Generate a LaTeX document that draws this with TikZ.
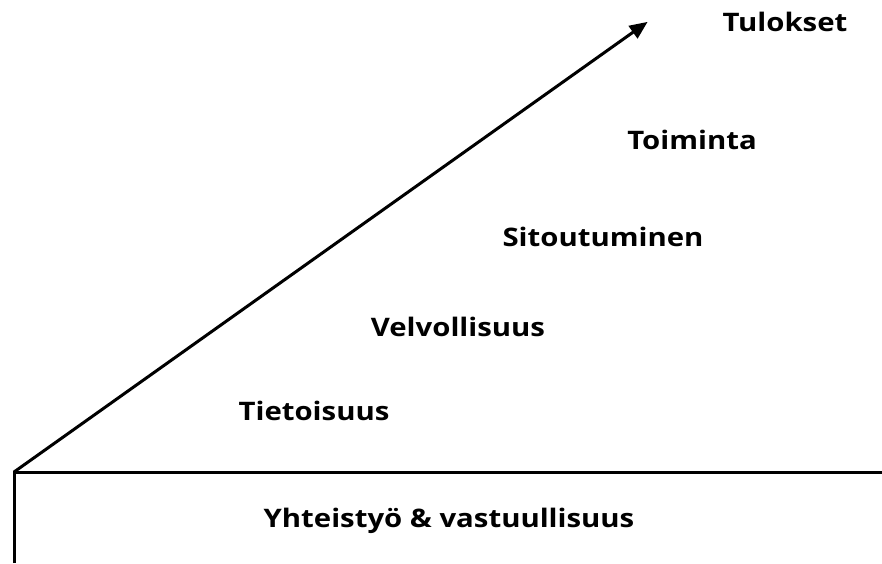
\documentclass[tikz,border=0pt]{standalone}
\usepackage{fontspec}
\setmainfont{Open Sans}
\usepackage{graphicx}
\usetikzlibrary{arrows.meta}
\newcommand{\widetxt}[1]{\scalebox{1.15}[1]{#1}}
\begin{document}
\begin{tikzpicture}[x=1pt,y=-1pt,
  lbl/.style={font=\fontsize{25.5}{30}\selectfont\bfseries, inner sep=0pt, anchor=center},
  ln/.style={line width=3pt}]
\useasboundingbox (0,0) rectangle (882,563);
\coordinate (o) at (14,472);
\coordinate (tip) at (646,23);
\coordinate (re) at (882,472);
\coordinate (lb) at (14,563);
\draw[ln, -{Triangle[length=18pt,width=15pt]}, shorten >=-2pt] (o) -- (tip);
\draw[ln] (lb) -- (o) -- (re);
\node[lbl] (tul) at (785,22) {\widetxt{Tulokset}};
\node[lbl] (toi) at (692,140) {\widetxt{Toiminta}};
\node[lbl] (sit) at (603,237) {\widetxt{Sitoutuminen}};
\node[lbl] (vel) at (458,327) {\widetxt{Velvollisuus}};
\node[lbl] (tie) at (314,411) {\widetxt{Tietoisuus}};
\node[lbl] (yht) at (449,521) {\widetxt{Yhteistyö \& vastuullisuus}};
\end{tikzpicture}
\end{document}
